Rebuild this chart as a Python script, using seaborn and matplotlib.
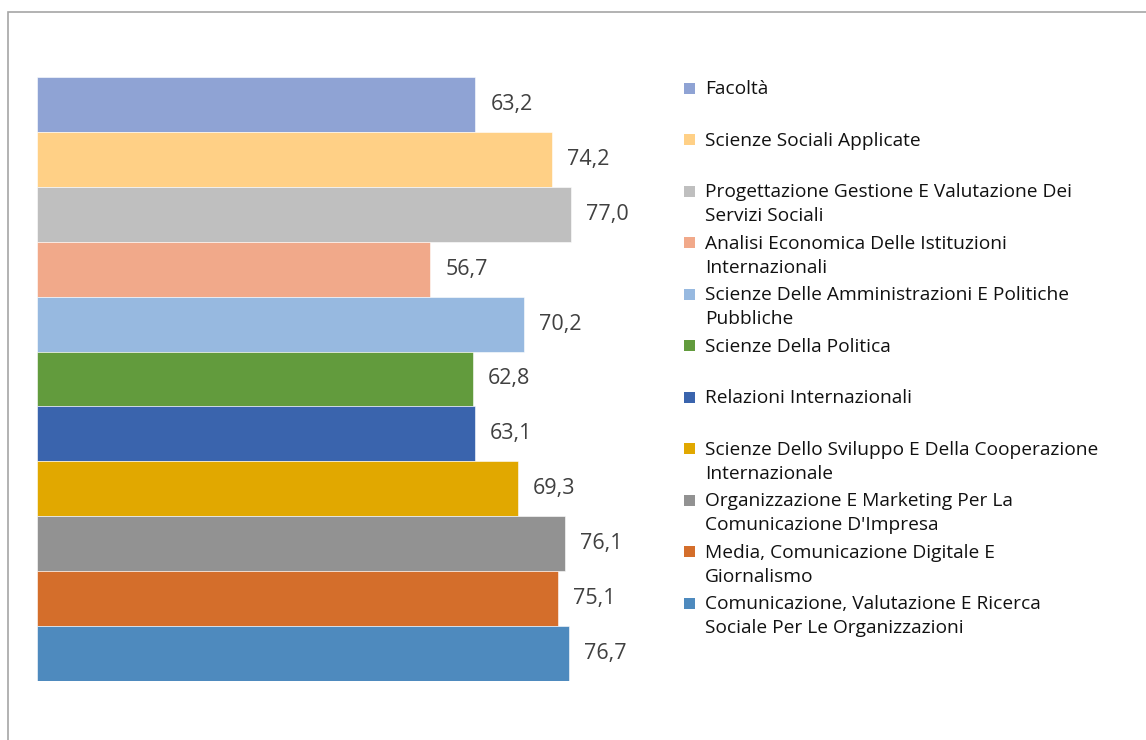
import matplotlib
matplotlib.use("Agg")
import matplotlib.pyplot as plt
from matplotlib.patches import Rectangle
import seaborn as sns
import pandas as pd

categories = [
    "Facoltà",
    "Scienze Sociali Applicate",
    "Progettazione Gestione E Valutazione Dei\nServizi Sociali",
    "Analisi Economica Delle Istituzioni\nInternazionali",
    "Scienze Delle Amministrazioni E Politiche\nPubbliche",
    "Scienze Della Politica",
    "Relazioni Internazionali",
    "Scienze Dello Sviluppo E Della Cooperazione\nInternazionale",
    "Organizzazione E Marketing Per La\nComunicazione D'Impresa",
    "Media, Comunicazione Digitale E\nGiornalismo",
    "Comunicazione, Valutazione E Ricerca\nSociale Per Le Organizzazioni",
]
values = [63.2, 74.2, 77.0, 56.7, 70.2, 62.8, 63.1, 69.3, 76.1, 75.1, 76.7]
colors = [
    "#8FA3D4", "#FFD086", "#BFBFBF", "#F1A98A", "#97B9E0", "#629B3D",
    "#3A64AD", "#E1A800", "#929292", "#D46E2B", "#4E8ABE",
]

df = pd.DataFrame({"corso": categories, "valore": values})

sns.set_theme(style="white")
plt.rcParams["font.family"] = ["Open Sans", "DejaVu Sans"]

W, H = 1146, 740
fig = plt.figure(figsize=(W / 100, H / 100), dpi=100)

# plot area: bars span from the left edge of the axes to value * scale
x_max = 90
px_per_unit = 6.935
ax = fig.add_axes([37 / W, (H - 681) / H, x_max * px_per_unit / W, 604 / H])

sns.barplot(
    data=df, x="valore", y="corso", hue="corso", palette=colors,
    order=categories, hue_order=categories, dodge=False, legend=False,
    width=1.0, orient="h", ax=ax, saturation=1,
    edgecolor="white", linewidth=0.4,
)
ax.set_xlim(0, x_max)
ax.set_ylim(len(categories) - 0.5, -0.5)
ax.set_axis_off()

for cont in ax.containers:
    ax.bar_label(
        cont, labels=[f"{v:.1f}".replace(".", ",") for v in cont.datavalues],
        padding=11, fontsize=15.5, color="#404040",
    )

# legend entries, one slot per category
legend_fs = 13.8
em_px = legend_fs * 100 / 72
slot = 51.5
for i, (lab, col) in enumerate(zip(categories, colors)):
    y_mid = 88 + i * slot
    fig.patches.append(Rectangle((684 / W, (H - y_mid - 5.5) / H), 11 / W, 11 / H,
                                 transform=fig.transFigure, facecolor=col,
                                 edgecolor="none", figure=fig))
    fig.text(705 / W, (H - y_mid + 0.4 * em_px) / H, lab, fontsize=legend_fs,
             color="#111111", va="top", ha="left", linespacing=1.42,
             transform=fig.transFigure)

# chart frame (only top and left edges fall inside the image)
fig.patches.append(Rectangle((7.5 / W, -0.1), 1.2, (H - 11.5) / H + 0.1,
                             transform=fig.transFigure, fill=False,
                             edgecolor="#A6A6A6", linewidth=1.2, figure=fig))

fig.savefig("out.png", dpi=100)
